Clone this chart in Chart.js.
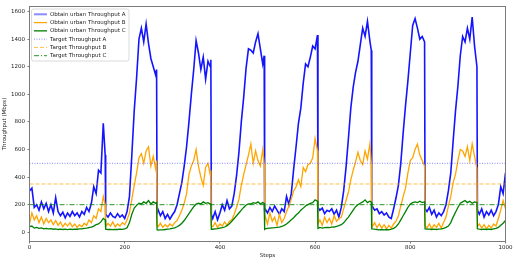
<!DOCTYPE html>
<html>
<head>
<meta charset="utf-8">
<script src="https://cdn.jsdelivr.net/npm/chart.js@4.4.0/dist/chart.umd.min.js"></script>
<style>
  html, body { margin: 0; padding: 0; background: #fff; }
</style>
</head>
<body>
<canvas id="chart" width="514" height="264"></canvas>
<script>
// Steps (x). Each drop gets one extra point so the fall stays vertical.
const steps = [
  0, 5, 10, 15, 20, 25, 30, 35, 40, 45, 50, 55, 60, 65, 70, 75, 80, 85, 90, 95, 100, 105, 110, 115, 120, 125, 130, 135, 140, 145, 150, 155, 159,
  160, 165, 170, 175, 180, 185, 190, 195, 200, 205, 210, 215, 220, 225, 230, 235, 240, 245, 250, 255, 260, 265, 267,
  268, 270, 275, 280, 285, 290, 295, 300, 305, 310, 315, 320, 325, 330, 335, 340, 345, 350, 355, 360, 365, 370, 375, 380, 381,
  382, 385, 390, 395, 400, 405, 410, 415, 420, 425, 430, 435, 440, 445, 450, 455, 460, 465, 470, 475, 480, 485, 490, 493,
  494, 495, 500, 505, 510, 515, 520, 525, 530, 535, 540, 545, 550, 555, 560, 565, 570, 575, 580, 585, 590, 595, 600, 605,
  606, 610, 615, 620, 625, 630, 635, 640, 645, 650, 655, 660, 665, 670, 675, 680, 685, 690, 695, 700, 705, 710, 715, 718,
  719, 720, 725, 730, 735, 740, 745, 750, 755, 760, 765, 770, 775, 780, 785, 790, 795, 800, 805, 810, 815, 820, 825, 830,
  831, 835, 840, 845, 850, 855, 860, 865, 870, 875, 880, 885, 890, 895, 900, 905, 910, 915, 920, 925, 930, 935, 940,
  941, 945, 950, 955, 960, 965, 970, 975, 980, 985, 990, 995, 1000
];

// Obtain urban Throughput A (Mbps)
const throughputA = [
  300, 320, 180, 200, 160, 220, 170, 210, 150, 200, 140, 250, 150, 120, 145, 105, 140, 115, 150, 120, 140, 110, 150, 130, 180, 150, 210, 330, 280, 450, 430, 790, 560,
  130, 110, 140, 115, 105, 135, 110, 125, 100, 150, 260, 560, 880, 1120, 1400, 1480, 1380, 1510, 1370, 1260, 1200, 1140, 1180,
  140, 165, 120, 150, 100, 130, 95, 125, 150, 200, 280, 360, 480, 620, 800, 1000, 1180, 1390, 1300, 1180, 1270, 1110, 1240, 1200, 1250,
  130, 100, 150, 90, 140, 200, 160, 230, 170, 190, 280, 410, 580, 800, 980, 1190, 1330, 1320, 1300, 1380, 1440, 1330, 1220, 1280,
  150, 170, 140, 180, 150, 190, 160, 130, 170, 150, 260, 200, 280, 460, 620, 790, 900, 1080, 1220, 1200, 1270, 1350, 1330, 1430,
  180, 160, 175, 135, 160, 150, 170, 130, 160, 110, 180, 300, 470, 680, 900, 1050, 1160, 1240, 1360, 1480, 1420, 1530, 1390, 1320,
  180, 190, 160, 170, 135, 150, 125, 140, 110, 100, 170, 250, 340, 500, 720, 920, 1100, 1300, 1500, 1550, 1480, 1400, 1420, 1380,
  170, 150, 180, 130, 160, 110, 140, 120, 150, 200, 300, 430, 660, 880, 1060, 1280, 1420, 1380, 1480, 1400, 1560, 1350, 1200,
  160, 130, 170, 110, 150, 125, 160, 120, 150, 200, 330, 280, 430
];

// Obtain urban Throughput B (Mbps)
const throughputB = [
  60, 140, 90, 120, 70, 110, 60, 100, 70, 90, 55, 85, 50, 75, 40, 65, 45, 70, 40, 60, 35, 55, 40, 65, 50, 90, 70, 120, 100, 170, 150, 260, 200,
  40, 65, 45, 75, 40, 60, 45, 70, 55, 90, 140, 240, 340, 430, 540, 570, 500, 590, 620, 480, 550, 460, 520,
  50, 40, 65, 35, 55, 40, 60, 45, 70, 85, 120, 160, 210, 280, 420, 480, 520, 600, 480, 400, 340, 470, 500, 410, 450,
  50, 40, 70, 35, 60, 45, 75, 50, 80, 90, 130, 180, 240, 340, 420, 490, 560, 640, 500, 590, 520, 480, 600, 500,
  90, 120, 60, 140, 80, 110, 50, 130, 70, 100, 150, 190, 240, 300, 330, 380, 330, 470, 440, 490, 500, 540, 680, 590,
  60, 90, 50, 110, 70, 100, 60, 120, 80, 100, 110, 170, 230, 290, 380, 450, 510, 580, 520, 490, 590, 530, 640, 500,
  60, 40, 70, 35, 60, 30, 55, 25, 50, 30, 60, 80, 120, 190, 260, 320, 430, 520, 540, 600, 640, 560, 520, 480,
  50, 30, 60, 25, 55, 35, 65, 30, 70, 110, 190, 260, 360, 420, 520, 600, 590, 550, 620, 520, 640, 550, 460,
  40, 60, 30, 55, 25, 50, 30, 60, 45, 100, 160, 230, 170
];

// Obtain urban Throughput C (Mbps)
const throughputC = [
  40, 45, 30, 35, 28, 32, 25, 28, 24, 26, 22, 25, 20, 23, 20, 22, 19, 22, 20, 23, 22, 25, 24, 28, 30, 34, 38, 45, 55, 60, 75, 100, 90,
  22, 20, 21, 19, 21, 20, 22, 21, 24, 32, 70, 130, 175, 195, 210, 205, 220, 210, 230, 205, 220, 210, 215,
  18, 16, 18, 17, 20, 22, 24, 28, 32, 40, 50, 65, 85, 110, 135, 160, 185, 205, 210, 205, 220, 210, 215, 205, 210,
  22, 22, 24, 26, 30, 33, 38, 48, 62, 80, 100, 120, 140, 160, 180, 198, 205, 205, 215, 210, 220, 205, 215, 210,
  22, 25, 28, 30, 32, 33, 35, 38, 42, 50, 60, 75, 90, 105, 125, 140, 160, 175, 190, 200, 210, 215, 235, 225,
  28, 35, 30, 33, 35, 34, 37, 38, 42, 48, 55, 68, 90, 110, 135, 160, 185, 200, 210, 220, 235, 215, 225, 220,
  25, 25, 22, 20, 18, 20, 17, 20, 18, 22, 28, 40, 60, 90, 120, 150, 180, 205, 215, 220, 215, 225, 215, 220,
  25, 23, 22, 20, 22, 20, 22, 24, 28, 35, 45, 70, 110, 145, 180, 210, 220, 230, 215, 225, 210, 220, 215,
  25, 22, 20, 22, 20, 22, 20, 24, 28, 35, 50, 65, 85
];

const targets = [500, 350, 200]; // A, B, C
const xTicks = [0, 200, 400, 600, 800, 1000];
const yTicks = [0, 200, 400, 600, 800, 1000, 1200, 1400, 1600];

const seriesLabels = ['Obtain urban Throughput A', 'Obtain urban Throughput B', 'Obtain urban Throughput C'];
const targetLabels = ['Target Throughput A', 'Target Throughput B', 'Target Throughput C'];

const toPoints = ys => steps.map((s, i) => ({ x: s, y: ys[i] }));
const flat = v => [{ x: xTicks[0], y: v }, { x: xTicks[xTicks.length - 1], y: v }];

Chart.defaults.font.family = 'DejaVu Sans';
Chart.defaults.font.size = 5.5;
Chart.defaults.color = '#222';

// Legend box drawn inside the plot, upper left, like matplotlib
const innerLegend = {
  id: 'innerLegend',
  afterDatasetsDraw(chart) {
    const ctx = chart.ctx;
    const x0 = 31.5, y0 = 9, w = 97.5, h = 52, r = 2;
    ctx.save();
    ctx.beginPath();
    ctx.roundRect(x0, y0, w, h, r);
    ctx.fillStyle = 'rgba(255,255,255,0.85)';
    ctx.fill();
    ctx.strokeStyle = '#d0d0d0';
    ctx.lineWidth = 0.8;
    ctx.stroke();
    ctx.font = '5.5px "DejaVu Sans"';
    ctx.textBaseline = 'middle';
    chart.data.datasets.forEach((ds, i) => {
      const y = 14.3 + i * 8.28;
      ctx.beginPath();
      ctx.setLineDash(ds.borderDash || []);
      ctx.strokeStyle = ds.legendColor || ds.borderColor;
      ctx.lineWidth = ds.legendWidth || ds.borderWidth;
      ctx.moveTo(34, y);
      ctx.lineTo(47, y);
      ctx.stroke();
      ctx.setLineDash([]);
      ctx.fillStyle = '#222';
      ctx.fillText(ds.label, 50, y);
    });
    ctx.restore();
  }
};

// four spines
const frame = {
  id: 'frame',
  afterDatasetsDraw(chart) {
    const { left, top, right, bottom } = chart.chartArea;
    const ctx = chart.ctx;
    ctx.save();
    ctx.strokeStyle = '#7a7a7a';
    ctx.lineWidth = 1;
    ctx.strokeRect(left, top, right - left, bottom - top);
    ctx.restore();
  }
};

new Chart(document.getElementById('chart'), {
  type: 'line',
  data: {
    datasets: [
      { label: seriesLabels[0], data: toPoints(throughputA), borderColor: 'rgba(0,0,255,0.92)', borderWidth: 1.6,
        legendColor: 'rgba(90,90,255,0.7)', legendWidth: 2, order: 6 },
      { label: seriesLabels[1], data: toPoints(throughputB), borderColor: '#ffa500', borderWidth: 1.3, order: 5 },
      { label: seriesLabels[2], data: toPoints(throughputC), borderColor: '#008000', borderWidth: 1.3, order: 4 },
      { label: targetLabels[0], data: flat(targets[0]), borderColor: 'rgba(60,60,255,0.6)', borderWidth: 1,
        borderDash: [1, 1.5], order: 3 },
      { label: targetLabels[1], data: flat(targets[1]), borderColor: 'rgba(255,165,0,0.7)', borderWidth: 1,
        borderDash: [4, 2], order: 2 },
      { label: targetLabels[2], data: flat(targets[2]), borderColor: 'rgba(0,128,0,0.85)', borderWidth: 1,
        borderDash: [5, 2, 1, 2], order: 1 }
    ]
  },
  options: {
    responsive: false,
    animation: false,
    devicePixelRatio: 1,
    layout: { padding: { top: 6.5, right: 8.5, left: 0, bottom: 0 } },
    elements: { point: { radius: 0 }, line: { tension: 0 } },
    plugins: { legend: { display: false }, tooltip: { enabled: false } },
    scales: {
      x: {
        type: 'linear', min: 0, max: 1000,
        afterBuildTicks: s => { s.ticks = xTicks.map(v => ({ value: v })); },
        afterFit: s => { s.height = 22.5; },
        grid: { drawOnChartArea: false, tickLength: 2, color: '#444', lineWidth: 0.7 },
        border: { display: false },
        ticks: { padding: 0.7, maxRotation: 0, callback: v => String(v) },
        title: { display: true, text: 'Steps', padding: { top: 0, bottom: 4.7 } }
      },
      y: {
        min: -67, max: 1637,
        afterBuildTicks: s => { s.ticks = yTicks.map(v => ({ value: v })); },
        afterFit: s => { s.width = 29.5; },
        grid: { drawOnChartArea: false, tickLength: 2, color: '#444', lineWidth: 0.7 },
        border: { display: false },
        ticks: { padding: 2.5, callback: v => String(v) },
        title: { display: true, text: 'Throughput (Mbps)', padding: { top: 1.7, bottom: 0 } }
      }
    }
  },
  plugins: [frame, innerLegend]
});
</script>
</body>
</html>
